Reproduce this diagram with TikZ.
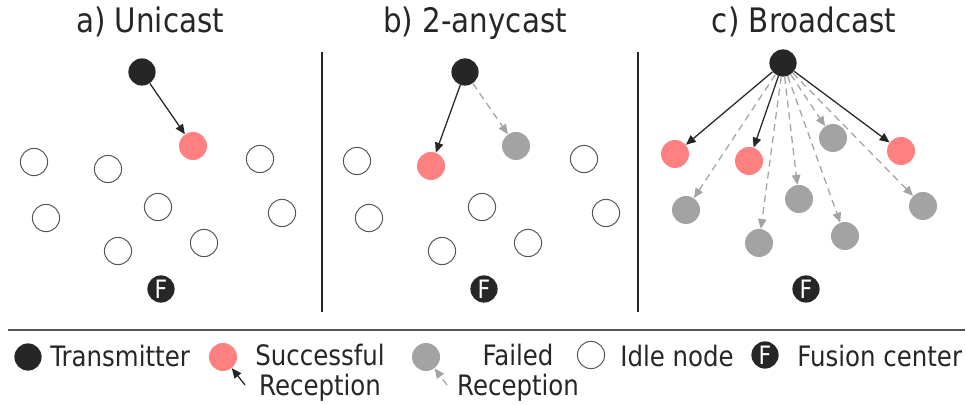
\documentclass[tikz,border=0pt]{standalone}
\usepackage{fontspec}
\setmainfont{DejaVu Sans}[FakeStretch=0.87]
\usetikzlibrary{arrows.meta}

\definecolor{txblack}{HTML}{262626}
\definecolor{okred}{HTML}{FF8080}
\definecolor{failgray}{HTML}{A3A3A3}
\definecolor{idleline}{HTML}{555555}

\tikzset{
  tx/.style={circle, fill=txblack, inner sep=0pt, minimum size=0.68cm},
  okrx/.style={circle, fill=okred, inner sep=0pt, minimum size=0.7cm},
  failrx/.style={circle, fill=failgray, inner sep=0pt, minimum size=0.7cm},
  idle/.style={circle, draw=idleline, line width=0.7pt, inner sep=0pt, minimum size=0.68cm},
  fusion/.style={circle, fill=txblack, text=white, inner sep=0pt, minimum size=0.68cm,
    font=\fontsize{18}{18}\selectfont},
  okarrow/.style={draw=txblack, line width=0.9pt, -{Triangle[length=7pt,width=6pt]}},
  failarrow/.style={draw=failgray, line width=0.9pt, dash pattern=on 5pt off 3.5pt,
    -{Triangle[length=7pt,width=6pt]}},
  title/.style={anchor=base, font=\fontsize{24}{28}\selectfont, text=txblack},
  legend/.style={font=\fontsize{20}{21.3}\selectfont, text=txblack, inner sep=0pt}
}

\begin{document}
\begin{tikzpicture}[x=0.025cm, y=-0.025cm]
  \useasboundingbox (0,0) rectangle (966,405);

  % panel titles
  \node[title] (ta) at (150,33) {a) Unicast};
  \node[title] (tb) at (475,33) {b) 2-anycast};
  \node[title] (tc) at (804,33) {c) Broadcast};

  % separators
  \draw[txblack, line width=0.9pt] (322,52) -- (322,312);
  \draw[txblack, line width=0.9pt] (638,52) -- (638,312);
  \draw[idleline, line width=0.9pt] (8,330) -- (965,330);

  % a) unicast
  \node[tx] (a-t) at (142,72) {};
  \node[okrx] (a-s) at (193,146) {};
  \foreach \i/\x/\y in {1/34/162, 2/108/169, 3/260/159, 4/46/218,
                        5/158/207, 6/282/213, 7/118/251, 8/204/243}
    \node[idle] (a-i\i) at (\x,\y) {};
  \node[fusion] (a-f) at (161,289) {F};
  \draw[okarrow] (a-t) -- (a-s);

  % b) 2-anycast
  \node[tx] (b-t) at (465,72) {};
  \node[okrx] (b-s) at (431,166) {};
  \node[failrx] (b-x) at (516,146) {};
  \foreach \i/\x/\y in {1/357/161, 2/369/218, 3/584/159, 4/482/207,
                        5/606/213, 6/442/251, 7/528/243}
    \node[idle] (b-i\i) at (\x,\y) {};
  \node[fusion] (b-f) at (484,289) {F};
  \draw[okarrow] (b-t) -- (b-s);
  \draw[failarrow] (b-t) -- (b-x);

  % c) broadcast
  \node[tx] (c-t) at (783,63) {};
  \foreach \i/\x/\y in {1/675/154, 2/749/161, 3/901/151}
  {
    \node[okrx] (c-s\i) at (\x,\y) {};
    \draw[okarrow] (c-t) -- (c-s\i);
  }
  \foreach \i/\x/\y in {1/833/138, 2/686/210, 3/799/199,
                        4/923/206, 5/759/243, 6/845/236}
  {
    \node[failrx] (c-x\i) at (\x,\y) {};
    \draw[failarrow] (c-t) -- (c-x\i);
  }
  \node[fusion] (c-f) at (806,289) {F};

  % legend
  \node[tx] (l-t) at (28,357) {};
  \node[legend, anchor=base west] (l-tt) at (50,367) {Transmitter};

  \node[okrx] (l-s) at (223,357) {};
  \coordinate (l-sa) at (245,385);
  \draw[okarrow] (l-sa) -- (l-s);
  \node[legend, align=center, anchor=north] (l-st) at (320,344) {Successful\\Reception};

  \node[failrx] (l-x) at (426,357) {};
  \coordinate (l-xa) at (447,385);
  \draw[failarrow] (l-xa) -- (l-x);
  \node[legend, align=center, anchor=north] (l-xt) at (518,344) {Failed\\Reception};

  \node[idle] (l-i) at (591,355) {};
  \node[legend, anchor=base west] (l-it) at (620,367) {Idle node};

  \node[fusion] (l-f) at (765,355) {F};
  \node[legend, anchor=base west] (l-ft) at (797,367) {Fusion center};
\end{tikzpicture}
\end{document}
